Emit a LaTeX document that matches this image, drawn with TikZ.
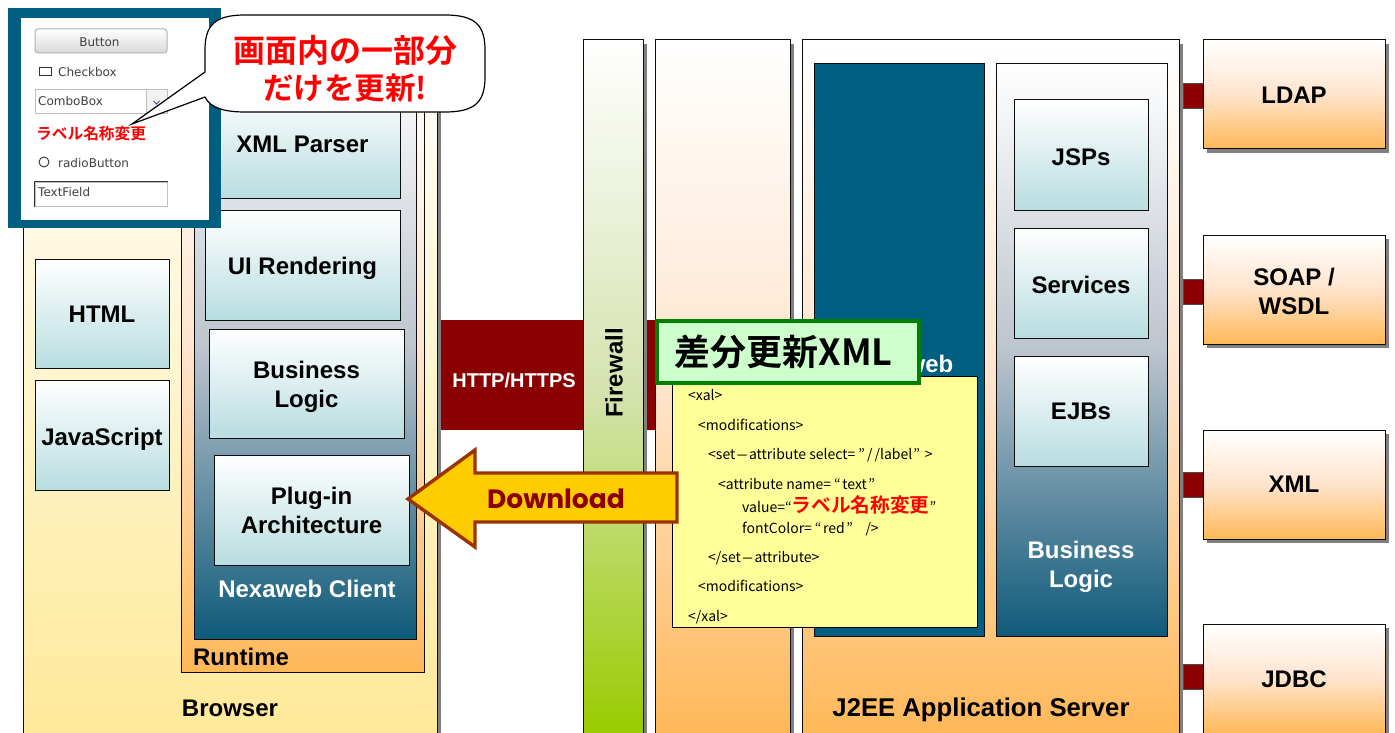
\documentclass[tikz,border=0pt]{standalone}
\usepackage{fontspec}
\setmainfont{Liberation Sans}
\newfontfamily\cjk{Noto Sans CJK JP}[BoldFont={Noto Sans CJK JP Bold}]
\newfontfamily\dlfont{Poppins}
\newfontfamily\wfont{DejaVu Sans}
\usetikzlibrary{shadows}
\definecolor{teald}{HTML}{005F80}
\definecolor{tealb}{HTML}{0F5A7A}
\definecolor{tealm}{HTML}{BCC4CE}
\definecolor{orng}{HTML}{FFB858}
\definecolor{orngm}{HTML}{FFE4CC}
\definecolor{ylw}{HTML}{FFE999}
\definecolor{pale}{HTML}{B8DDE0}
\definecolor{grn}{HTML}{99CC00}
\definecolor{grnm}{HTML}{D5E3B0}
\definecolor{dred}{HTML}{8B0000}
\definecolor{sheet}{HTML}{FFFF99}
\definecolor{arrowfill}{HTML}{FFCC00}
\definecolor{arrowline}{HTML}{993300}
\definecolor{titlefill}{HTML}{CCFFCC}
\definecolor{titleline}{HTML}{007F00}
\newcommand{\widehy}{\hspace{.5pt}\scalebox{2.6}[1]{-}\hspace{.5pt}}
\tikzset{
  x=1pt,y=-1pt,
  base/.style={draw=black!95,line width=1pt,inner sep=0pt,align=center},
  shad/.style={drop shadow={fill=black!50,shadow xshift=4pt,shadow yshift=-4pt,opacity=1}},
  browserbox/.style={base,shad,top color=white,bottom color=ylw},
  orangebox/.style={base,shad,top color=white,bottom color=orng,middle color=orngm},
  runtimebox/.style={base,top color=white,bottom color=orng,middle color=orngm},
  tealbox/.style={base,top color=white,bottom color=tealb,middle color=tealm},
  palebox/.style={base,top color=white,bottom color=pale},
  fwbox/.style={base,shad,top color=white,bottom color=grn,middle color=grnm},
  bar/.style={fill=dred,draw=black!70,line width=.6pt,inner sep=0pt},
  bandbox/.style={fill=dred,inner sep=0pt},
  lbl/.style={inner sep=0pt,align=center,font=\bfseries\fontsize{24}{29}\selectfont},
  wlbl/.style={lbl,text=white},
  wtxt/.style={inner sep=0pt,anchor=west,text=black!75,font=\wfont\fontsize{12}{13}\selectfont},
  wbox/.style={draw=black!25,line width=1pt,inner sep=0pt},
  xmlt/.style={inner sep=0pt,anchor=base west,font=\cjk\fontsize{14}{16}\selectfont},
  redjp/.style={inner sep=0pt,text=red,font=\cjk\bfseries\fontsize{15.7}{18}\selectfont},
}
\newcommand{\pbox}[6]{\node[#5,minimum width={(#3-#1)*1pt},minimum height={(#4-#2)*1pt}] (#6) at ({(#1+#3)/2},{(#2+#4)/2}) {};}
\newcommand{\tbox}[8][]{\node[#6,minimum width={(#4-#2)*1pt},minimum height={(#5-#3)*1pt}] (#7) at ({(#2+#4)/2},{(#3+#5)/2}) {};
  \node[lbl,#1] (#7t) at (#7.center) {#8};}
\begin{document}
\begin{tikzpicture}
\clip (0,0) rectangle (1395,733);
% right column boxes and their links
\pbox{1183}{83}{1204}{108}{bar}{ldaplink}
\pbox{1183}{279}{1204}{304}{bar}{soaplink}
\pbox{1183}{472}{1204}{497}{bar}{xmllink}
\pbox{1183}{664}{1204}{689}{bar}{jdbclink}
\tbox[yshift=-1pt]{1203}{40}{1385}{149}{orangebox}{ldap}{LDAP}
\tbox[yshift=-2pt]{1203}{235}{1385}{344}{orangebox}{soap}{SOAP /\\WSDL}
\tbox{1203}{430}{1385}{539}{orangebox}{xmlb}{XML}
\tbox{1203}{624}{1385}{734}{orangebox}{jdbc}{JDBC}
% browser
\pbox{23}{40}{437}{734}{browserbox}{browser}
\pbox{181}{40}{424}{672}{runtimebox}{runtime}
\pbox{194}{60}{416}{639}{tealbox}{client}
\tbox[xshift=-2.5pt]{210}{90}{400}{198}{palebox}{parser}{XML Parser}
\tbox[yshift=-3pt]{205}{210}{400}{320}{palebox}{uir}{UI Rendering}
\tbox[yshift=-3pt]{209}{329}{404}{438}{palebox}{bl}{Business\\Logic}
\tbox{214}{455}{409}{565}{palebox}{plugin}{Plug-in\\Architecture}
\tbox[yshift=-1pt]{35}{259}{169}{368}{palebox}{html}{HTML}
\tbox[yshift=-4pt]{35}{380}{169}{490}{palebox}{js}{JavaScript}
\node[wlbl] (clientl) at (307,589) {Nexaweb Client};
\node[lbl] (runtimel) at (241,657) {Runtime};
\node[lbl] (browserl) at (230,708) {Browser};
% http band
\pbox{441}{320}{660}{430}{bandbox}{band}
\node[wlbl,font=\bfseries\fontsize{20}{24}\selectfont] (bandl) at (514,380) {HTTP/HTTPS};
% firewall
\pbox{583}{40}{643}{734}{fwbox}{fw}
\node[lbl,rotate=90] (fwl) at (614,373) {Firewall};
% middle column and server
\pbox{655}{40}{790}{734}{orangebox}{mid}
\pbox{802}{40}{1179}{734}{orangebox}{server}
\pbox{814}{64}{984}{636}{base,fill=teald}{nexa}
\node[wlbl] (nexal) at (930,364) {web};
\pbox{996}{64}{1167}{636}{tealbox}{blc}
\tbox[yshift=-2pt]{1014}{100}{1148}{210}{palebox}{jsp}{JSPs}
\tbox[yshift=-2pt]{1014}{228}{1148}{338}{palebox}{svc}{Services}
\tbox{1014}{356}{1148}{466}{palebox}{ejb}{EJBs}
\node[wlbl] (blcl) at (1081,567) {Business\\Logic};
\node[lbl,font=\bfseries\fontsize{25.7}{29}\selectfont] (serverl) at (981,710) {J2EE Application Server};
% yellow xml
\pbox{672}{376}{977}{627}{base,fill=sheet,draw=black}{xmlsheet}
\node[xmlt] (x1) at (688,400) {<xal>};
\node[xmlt] (x2) at (698,430) {<modifications>};
\node[xmlt] (x3) at (708,459) {<set\widehy attribute select=\hspace{3pt}”\hspace{2pt}/\hspace{2pt}/label\hspace{1pt}”\hspace{5pt}>};
\node[xmlt] (x4) at (718,489) {<attribute name=\hspace{3pt}“\hspace{1.5pt}text\hspace{1.5pt}”};
\node[xmlt] (x5) at (742,512) {value=“{\bfseries\fontsize{19.7}{20}\selectfont\color{red}ラベル名称変更}”};
\node[xmlt] (x6) at (742,533) {fontColor=\hspace{3pt}“\hspace{1.5pt}red\hspace{1.5pt}”\ \ \ \ />};
\node[xmlt] (x7) at (708,562) {</set\widehy attribute>};
\node[xmlt] (x8) at (698,591) {<modifications>};
\node[xmlt] (x9) at (688,621) {</xal>};
% green title
\node[draw=titleline,fill=titlefill,line width=4pt,inner sep=0pt,minimum width=262pt,minimum height=62pt,font=\cjk\bfseries\fontsize{36}{40}\selectfont] (title) at (787.5,352) {差分更新XML\hspace*{8pt}};
% download arrow
\draw[fill=arrowfill,draw=arrowline,line width=3.4pt,miter limit=10]
  (408,499) -- (475,450) -- (475,473) -- (677,473) -- (677,522) -- (475,522) -- (475,547) -- cycle;
\node[inner sep=0pt,text=dred,font=\dlfont\bfseries\fontsize{26.5}{30}\selectfont] (dl) at (556,499) {Download};
% screen panel
\pbox{8}{8}{221}{228}{fill=teald,inner sep=0pt}{screen}
\pbox{21}{18}{209}{220}{fill=white,inner sep=0pt}{screenin}
\node[draw=black!30,line width=1pt,rounded corners=3pt,top color=white,bottom color=black!15,minimum width=132pt,minimum height=24pt,inner sep=0pt] (btn) at (101,41) {};
\node[wtxt,anchor=center] (btnl) at (99.5,42) {Button};
\node[draw=black!80,line width=.8pt,inner sep=0pt,minimum width=12pt,minimum height=8pt] (cb) at (45,71) {};
\node[wtxt] (cbl) at (58,72) {Checkbox};
\pbox{35}{90}{167}{114}{wbox}{combo}
\node[wtxt] (combol) at (38,101) {ComboBox};
\pbox{146}{90}{167}{114}{wbox,fill=black!5}{combob}
\draw[draw=blue!40!black!70,line width=.8pt] ([shift={(-3,-1)}]combob.center) -- ([shift={(0,2)}]combob.center) -- ([shift={(3,-1)}]combob.center);
\node[redjp,anchor=west] (labelr) at (36,134) {ラベル名称変更};
\node[circle,draw=black!80,line width=.9pt,inner sep=0pt,minimum size=10pt] (radio) at (44,162) {};
\node[wtxt] (radiol) at (58,163) {radioButton};
\pbox{35}{182}{167}{206}{wbox}{tf}
\draw[black!80,line width=.8pt] (tf.south west) -- (tf.north west) -- (tf.north east);
\node[wtxt] (tfl) at (38,192) {TextField};
% callout
\draw[fill=white,draw=black,line width=1.2pt]
  (205,50) .. controls (205,25) and (215,15) .. (245,15) -- (445,15)
  .. controls (475,15) and (485,25) .. (485,50) -- (485,77)
  .. controls (485,102) and (475,112) .. (445,112) -- (245,112)
  .. controls (225,112) and (210,108) .. (205,97) -- (132,124) -- (205,72) -- cycle;
\node[align=center,text=red,inner sep=0pt,font=\cjk\bfseries\fontsize{32}{37}\selectfont] (calloutt) at (345,68.5) {画面内の一部分\\{\fontsize{30.5}{37}\selectfont だけを更新!}};
\end{tikzpicture}
\end{document}
